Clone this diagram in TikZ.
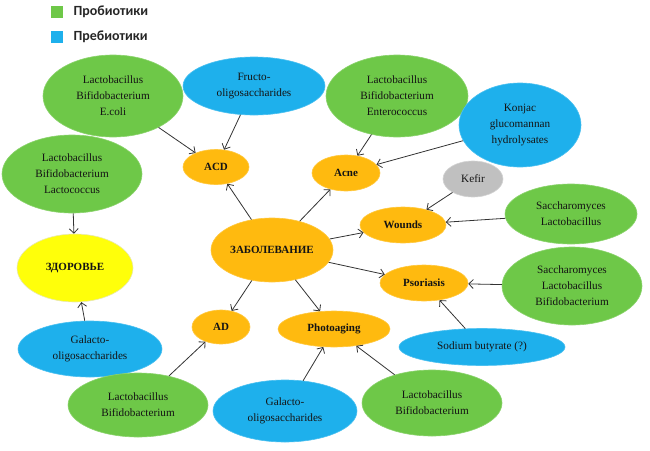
\documentclass[tikz,border=0pt]{standalone}
\usepackage{fontspec}
\setmainfont{Liberation Serif}
\newfontfamily\legendfont{Carlito}
\usetikzlibrary{shapes.geometric,arrows.meta}

\definecolor{probio}{RGB}{110,200,72}
\definecolor{prebio}{RGB}{30,176,236}
\definecolor{illness}{RGB}{255,186,15}
\definecolor{wellness}{RGB}{255,255,10}
\definecolor{kefirgray}{RGB}{192,192,192}

\tikzset{
  blob/.style={ellipse, inner sep=0pt, align=center, text=black!92,
    font=\fontsize{11.2}{16}\selectfont, line width=0.6pt},
  pro/.style={blob, fill=probio, draw=probio!80!white},
  pre/.style={blob, fill=prebio, draw=prebio!80!white},
  ill/.style={blob, fill=illness, draw=illness!80!white,
    font=\fontsize{11}{16}\selectfont\bfseries},
  link/.style={->, draw=black!80, line width=0.8pt},
  >={Straight Barb[length=4.5pt,width=9pt]},
}

\begin{document}
\begin{tikzpicture}[x=1pt, y=-1pt]
    \useasboundingbox (0,0) rectangle (650,450);
    % legend
    \fill [probio] (51,6) rectangle (63,18);
    \fill [prebio] (51,31) rectangle (63,43);
    \node [anchor=west, font=\legendfont\fontsize{14}{15}\selectfont\bfseries, text=black!85] (leg1) at (70,12) {Пробиотики};
    \node [anchor=west, font=\legendfont\fontsize{14}{15}\selectfont\bfseries, text=black!85] (leg2) at (70,37) {Пребиотики};

    % center and targets
    \node [ill, minimum width=122pt, minimum height=64pt] (disease) at (272,250) {ЗАБОЛЕВАНИЕ};
    \node [ill, minimum width=66pt, minimum height=35pt] (acd) at (216,167) {ACD};
    \node [ill, minimum width=68pt, minimum height=36pt] (acne) at (346,173) {Acne};
    \node [ill, minimum width=86pt, minimum height=36pt] (wounds) at (403,225) {Wounds};
    \node [ill, minimum width=88pt, minimum height=36pt] (psor) at (424,283) {Psoriasis};
    \node [ill, minimum width=112pt, minimum height=36pt] (photo) at (334,329) {Photoaging};
    \node [ill, minimum width=58pt, minimum height=34pt] (ad) at (221,327) {AD};
    \node [blob, fill=wellness, draw=wellness!70!black!30!white, minimum width=116pt, minimum height=68pt,
        font=\fontsize{11}{16}\selectfont\bfseries] (health) at (75,268) {ЗДОРОВЬЕ};

    % sources
    \node [pro, minimum width=140pt, minimum height=82pt] (ecoli) at (113,96) {Lactobacillus\\Bifidobacterium\\E.coli};
    \node [pre, minimum width=142pt, minimum height=58pt] (fructo) at (254,86) {Fructo-\\oligosaccharides};
    \node [pro, minimum width=140pt, minimum height=78pt] (lactococ) at (72,174) {Lactobacillus\\Bifidobacterium\\Lactococcus};
    \node [pro, minimum width=142pt, minimum height=82pt] (entero) at (397,96) {Lactobacillus\\Bifidobacterium\\Enterococcus};
    \node [pre, minimum width=122pt, minimum height=84pt] (konjac) at (520,125) {Konjac\\glucomannan\\hydrolysates};
    \node [blob, fill=kefirgray, draw=kefirgray!70!white, minimum width=60pt, minimum height=36pt] (kefir) at (473,179) {Kefir};
    \node [pro, minimum width=132pt, minimum height=60pt] (saccw) at (571,214) {Saccharomyces\\Lactobacillus};
    \node [pro, minimum width=140pt, minimum height=78pt] (saccp) at (572,286) {Saccharomyces\\Lactobacillus\\Bifidobacterium};
    \node [pre, minimum width=166pt, minimum height=37pt] (sodium) at (482,347) {Sodium butyrate (?)};
    \node [pre, minimum width=144pt, minimum height=56pt] (galhealth) at (90,349) {Galacto-\\oligosaccharides};
    \node [pro, minimum width=140pt, minimum height=64pt] (lbad) at (138,405) {Lactobacillus\\Bifidobacterium};
    \node [pre, minimum width=144pt, minimum height=62pt] (galphoto) at (285,411) {Galacto-\\oligosaccharides};
    \node [pro, minimum width=140pt, minimum height=66pt] (lbphoto) at (432,403) {Lactobacillus\\Bifidobacterium};

    % links
    \draw [link] (ecoli) -- (acd);
    \draw [link] (fructo) -- (acd);
    \draw [link] (disease) -- (acd);
    \draw [link] (disease) -- (acne);
    \draw [link] (entero) -- (acne);
    \draw [link] (konjac) -- (acne);
    \draw [link] (kefir) -- (wounds);
    \draw [link] (saccw) -- (wounds);
    \draw [link] (disease) -- (wounds);
    \draw [link] (disease) -- (psor);
    \draw [link] (saccp) -- (psor);
    \draw [link] (sodium) -- (psor);
    \draw [link] (disease) -- (photo);
    \draw [link] (disease) -- (ad);
    \draw [link] (galphoto) -- (photo);
    \draw [link] (lbphoto) -- (photo);
    \draw [link] (lbad) -- (ad);
    \draw [link] (lactococ) -- (health);
    \draw [link] (galhealth) -- (health);
\end{tikzpicture}
\end{document}
